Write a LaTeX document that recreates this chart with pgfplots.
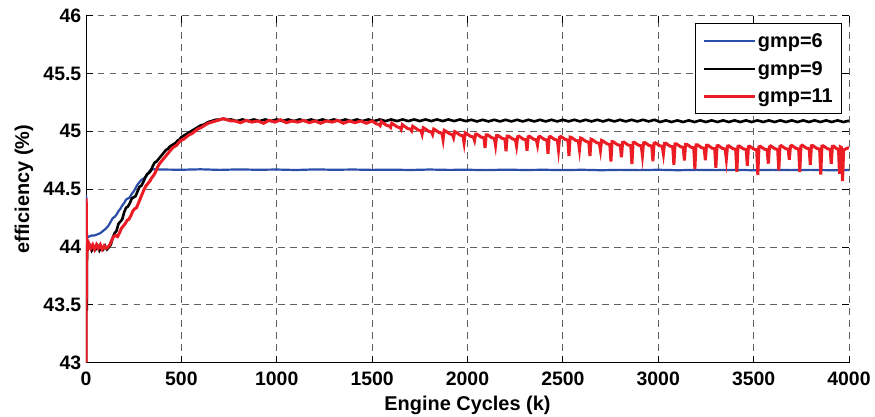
\documentclass[border=0pt]{standalone}
\usepackage{fontspec}
\setmainfont{Liberation Sans}
\usepackage{pgfplots}
\pgfplotsset{compat=1.18}
\definecolor{gblue}{RGB}{45,78,168}
\definecolor{gred}{RGB}{236,28,36}
\begin{document}
\begin{tikzpicture}
\begin{axis}[
  scale only axis, width=763bp, height=347bp,
  xmin=0, xmax=4000, ymin=43, ymax=46,
  xtick={0,500,1000,1500,2000,2500,3000,3500,4000},
  ytick={43,43.5,44,44.5,45,45.5,46},
  axis line style={draw=none},
  clip mode=individual,
  tick align=inside, major tick length=7bp,
  tick style={black, line width=0.8bp},
  grid=major,
  major grid style={black!62, line width=0.8bp, dash pattern=on 6.5bp off 5.5bp},
  tick label style={font=\bfseries\fontsize{19.5}{20}\selectfont},
  /pgf/number format/assume math mode=true,
  /pgf/number format/1000 sep={},
  yticklabel style={inner sep=0pt, xshift=-4.5bp},
  xticklabel style={inner sep=0pt, yshift=-9bp},
  xlabel={Engine Cycles (k)},
  ylabel={efficiency (\%)},
  every axis x label/.style={at={(axis description cs:0.5,0)}, anchor=north, inner sep=0pt, yshift=-33.5bp, font=\bfseries\fontsize{20}{20}\selectfont},
  every axis y label/.style={at={(axis description cs:-0.0813,0.5)}, anchor=center, inner sep=0pt, rotate=90, font=\bfseries\fontsize{20}{20}\selectfont},
  legend style={at={(0.991,0.978)}, anchor=north east, draw=black, line width=0.8bp,
    font=\bfseries\fontsize{20}{20}\selectfont, inner xsep=7bp, inner ysep=7.5bp,
    row sep=8.5bp, cells={anchor=west}},
  legend image code/.code={\draw[#1, line width=2.4bp] (0bp,0bp) -- (51bp,0bp);},
]
\draw[black, line width=0.9bp] (rel axis cs:0,1) -- (rel axis cs:0,0) -- (rel axis cs:1,0);

\addplot[gblue, line width=2.2bp] coordinates {
(0,44.45) (2,44.40) (4,44.15) (6,44.08) (15,44.09) (30,44.10) (45,44.10) (60,44.11)
(75,44.12) (90,44.14) (105,44.16) (120,44.19) (130,44.22) (140,44.25) (150,44.26)
(160,44.28) (170,44.31) (180,44.33) (190,44.36) (200,44.38) (210,44.41) (220,44.42)
(230,44.43) (240,44.46) (250,44.48) (260,44.51) (270,44.54) (280,44.56) (290,44.58)
(300,44.59) (310,44.60) (320,44.62) (330,44.65) (340,44.67) (360,44.672) (400,44.670)
(500,44.668) (600,44.672) (700,44.667) (800,44.671) (900,44.668) (1000,44.670)
(1100,44.666) (1200,44.671) (1300,44.668) (1400,44.670) (1500,44.667) (1600,44.669)
(1700,44.666) (1800,44.670) (1900,44.667) (2000,44.668) (2100,44.665) (2200,44.669)
(2300,44.666) (2400,44.668) (2500,44.665) (2600,44.668) (2700,44.664) (2800,44.667)
(2900,44.665) (3000,44.668) (3100,44.664) (3200,44.667) (3300,44.665) (3400,44.667)
(3500,44.664) (3600,44.667) (3700,44.665) (3800,44.667) (3900,44.664) (4000,44.666)
};
\addlegendentry{gmp=6}

\addplot[black, line width=2.6bp] coordinates {
(0,43.0) (1,43.6) (2,44.02) (3,43.7) (4,43.45) (5,43.9) (7,44.03) (10,43.98) (20,44.01)
(30,43.97) (40,44.0) (50,43.98) (60,44.01) (70,43.97) (80,44.0) (90,43.98) (100,44.01)
(110,43.98) (120,44.0) (130,44.02) (140,44.08) (150,44.12) (160,44.14) (170,44.2)
(180,44.22) (190,44.24) (200,44.3) (210,44.34) (220,44.35) (230,44.38) (240,44.42)
(250,44.43) (260,44.44) (270,44.48) (280,44.52) (290,44.53) (300,44.56) (310,44.6)
(320,44.63) (330,44.64) (340,44.66) (350,44.7) (360,44.73) (370,44.74) (380,44.76)
(390,44.78) (400,44.8) (410,44.82) (420,44.84) (430,44.85) (440,44.87) (450,44.88)
(460,44.89) (470,44.9) (480,44.92) (490,44.93) (500,44.95) (520,44.97) (540,44.99)
(560,45.01) (580,45.03) (600,45.05) (620,45.06) (640,45.08) (660,45.09) (680,45.1)
(700,45.1) (720,45.11) (740,45.1)
(760,45.103) (790,45.089) (820,45.103) (850,45.089) (880,45.103) (910,45.089)
(940,45.103) (970,45.089) (1000,45.103) (1030,45.089) (1060,45.103) (1090,45.089)
(1120,45.103) (1150,45.089) (1180,45.103) (1210,45.089) (1240,45.103) (1270,45.089)
(1300,45.103) (1330,45.089) (1360,45.103) (1390,45.089) (1420,45.103) (1450,45.089)
(1480,45.103) (1510,45.089) (1540,45.103) (1570,45.089) (1600,45.103) (1630,45.089)
(1660,45.103) (1690,45.089) (1720,45.103) (1750,45.089) (1780,45.103) (1810,45.089)
(1840,45.103) (1870,45.089) (1900,45.103) (1930,45.089) (1960,45.103) (1990,45.089)
(2020,45.1) (2050,45.086) (2080,45.1) (2110,45.086) (2140,45.1) (2170,45.086)
(2200,45.1) (2230,45.086) (2260,45.1) (2290,45.086) (2320,45.1) (2350,45.086)
(2380,45.1) (2410,45.086) (2440,45.1) (2470,45.086) (2500,45.1) (2530,45.086)
(2560,45.1) (2590,45.086) (2620,45.1) (2650,45.086) (2680,45.1) (2710,45.086)
(2740,45.1) (2770,45.086) (2800,45.1) (2830,45.086) (2860,45.1) (2890,45.086)
(2920,45.1) (2950,45.086) (2980,45.1) (3010,45.081) (3040,45.095) (3070,45.081)
(3100,45.095) (3130,45.081) (3160,45.095) (3190,45.081) (3220,45.095) (3250,45.081)
(3280,45.095) (3310,45.081) (3340,45.095) (3370,45.081) (3400,45.095) (3430,45.081)
(3460,45.095) (3490,45.081) (3520,45.095) (3550,45.081) (3580,45.095) (3610,45.081)
(3640,45.095) (3670,45.081) (3700,45.095) (3730,45.081) (3760,45.095) (3790,45.081)
(3820,45.095) (3850,45.081) (3880,45.095) (3910,45.081) (3940,45.095) (3970,45.081)
(4000,45.092)
};
\addlegendentry{gmp=9}

\addplot[gred, line width=3bp] coordinates {
(0,43.0) (1,44.42) (2,44.3) (3,43.55) (4,43.9) (5,44.05) (8,43.98) (15,44.03) (25,43.99)
(35,44.02) (45,43.98) (55,44.02) (65,43.99) (75,44.02) (85,43.98) (95,44.01) (105,43.99)
(115,44.0) (125,44.02) (135,44.06) (145,44.09) (155,44.1) (165,44.09) (175,44.12)
(185,44.16) (195,44.18) (205,44.2) (215,44.23) (225,44.24) (235,44.27) (245,44.31)
(255,44.33) (265,44.34) (275,44.38) (285,44.42) (295,44.46) (305,44.5) (315,44.53)
(325,44.55) (335,44.57) (345,44.6) (355,44.62) (365,44.65) (375,44.69) (385,44.72)
(395,44.74) (405,44.76) (415,44.78) (425,44.8) (435,44.82) (445,44.84) (455,44.86)
(465,44.87) (475,44.88) (485,44.9) (495,44.92) (510,44.93) (525,44.95) (540,44.97)
(555,44.98) (570,45.0) (585,45.02) (600,45.03) (620,45.05) (640,45.07) (660,45.08)
(680,45.09) (700,45.1) (720,45.11) (740,45.1) (760,45.09)
(780,45.09) (810,45.075) (840,45.095) (870,45.08) (900,45.09) (930,45.07) (960,45.095)
(990,45.08) (1020,45.1) (1050,45.075) (1080,45.09) (1110,45.08) (1140,45.095)
(1170,45.075) (1200,45.09) (1230,45.07) (1260,45.09) (1290,45.08) (1320,45.095)
(1350,45.07) (1380,45.09) (1410,45.075) (1440,45.09) (1470,45.07)
(1500,45.09) (1522,45.065) (1536,45.06) (1542,45.05) (1548,45.085)
(1555,45.076) (1577,45.051) (1591,45.046) (1597,45.035) (1603,45.071)
(1610,45.063) (1632,45.038) (1646,45.033) (1652,45.017) (1658,45.058)
(1665,45.049) (1687,45.024) (1701,45.019) (1707,45.005) (1713,45.044)
(1720,45.036) (1742,45.011) (1756,45.006) (1762,44.975) (1768,45.031)
(1775,45.025) (1797,45.0) (1811,44.995) (1817,44.973) (1823,45.02)
(1830,45.014) (1852,44.989) (1866,44.984) (1872,44.928) (1878,45.009)
(1885,45.003) (1907,44.978) (1921,44.973) (1927,44.945) (1933,44.998)
(1940,44.992) (1962,44.967) (1976,44.962) (1982,44.901) (1988,44.987)
(1995,44.981) (2017,44.956) (2031,44.951) (2037,44.921) (2043,44.976)
(2050,44.975) (2072,44.95) (2086,44.945) (2092,44.856) (2098,44.97)
(2105,44.97) (2127,44.945) (2141,44.94) (2147,44.879) (2153,44.965)
(2160,44.964) (2182,44.939) (2196,44.934) (2202,44.828) (2208,44.959)
(2215,44.959) (2237,44.934) (2251,44.929) (2257,44.874) (2263,44.954)
(2270,44.958) (2292,44.933) (2306,44.928) (2312,44.832) (2318,44.953)
(2325,44.957) (2347,44.932) (2361,44.927) (2367,44.881) (2373,44.952)
(2380,44.956) (2402,44.931) (2416,44.926) (2422,44.806) (2428,44.951)
(2435,44.955) (2457,44.93) (2471,44.925) (2477,44.841) (2483,44.95)
(2490,44.955) (2512,44.93) (2526,44.925) (2532,44.786) (2538,44.95)
(2545,44.947) (2567,44.922) (2581,44.917) (2587,44.843) (2593,44.942)
(2600,44.937) (2622,44.912) (2636,44.907) (2642,44.787) (2648,44.932)
(2655,44.927) (2677,44.902) (2691,44.897) (2697,44.836) (2703,44.922)
(2710,44.917) (2732,44.892) (2746,44.887) (2752,44.74) (2758,44.912)
(2765,44.909) (2787,44.884) (2801,44.879) (2807,44.776) (2813,44.904)
(2820,44.907) (2842,44.882) (2856,44.877) (2862,44.717) (2868,44.902)
(2875,44.905) (2897,44.88) (2911,44.875) (2917,44.791) (2923,44.9)
(2930,44.903) (2952,44.878) (2966,44.873) (2972,44.741) (2978,44.898)
(2985,44.901) (3007,44.876) (3021,44.871) (3027,44.806) (3033,44.896)
(3040,44.897) (3062,44.872) (3076,44.867) (3082,44.711) (3088,44.892)
(3095,44.892) (3117,44.867) (3131,44.862) (3137,44.749) (3143,44.887)
(3150,44.888) (3172,44.863) (3186,44.858) (3192,44.675) (3198,44.883)
(3205,44.884) (3227,44.859) (3241,44.854) (3247,44.751) (3253,44.879)
(3260,44.88) (3282,44.855) (3296,44.85) (3302,44.685) (3308,44.875)
(3315,44.877) (3337,44.852) (3351,44.847) (3357,44.761) (3363,44.872)
(3370,44.875) (3392,44.85) (3406,44.845) (3412,44.65) (3418,44.87)
(3425,44.873) (3447,44.848) (3461,44.843) (3467,44.703) (3473,44.868)
(3480,44.871) (3502,44.846) (3516,44.841) (3522,44.622) (3528,44.866)
(3535,44.871) (3557,44.846) (3571,44.841) (3577,44.721) (3583,44.866)
(3590,44.874) (3612,44.849) (3626,44.844) (3632,44.663) (3638,44.869)
(3645,44.876) (3667,44.851) (3681,44.846) (3687,44.754) (3693,44.871)
(3700,44.878) (3722,44.853) (3736,44.848) (3742,44.648) (3748,44.873)
(3755,44.88) (3777,44.855) (3791,44.85) (3797,44.712) (3803,44.875)
(3810,44.877) (3832,44.852) (3846,44.847) (3852,44.627) (3858,44.872)
(3865,44.875) (3887,44.85) (3901,44.845) (3907,44.719) (3913,44.87)
(3920,44.872) (3935,44.85) (3945,44.845) (3950,44.634) (3955,44.865)
(3960,44.86) (3966,44.57) (3972,44.84) (3985,44.85) (4000,44.86)
};
\addlegendentry{gmp=11}
\end{axis}
\pgfresetboundingbox
\path (current axis.south west) ++(-86bp,-54.3bp) rectangle ++(875bp,417bp);
\end{tikzpicture}
\end{document}
